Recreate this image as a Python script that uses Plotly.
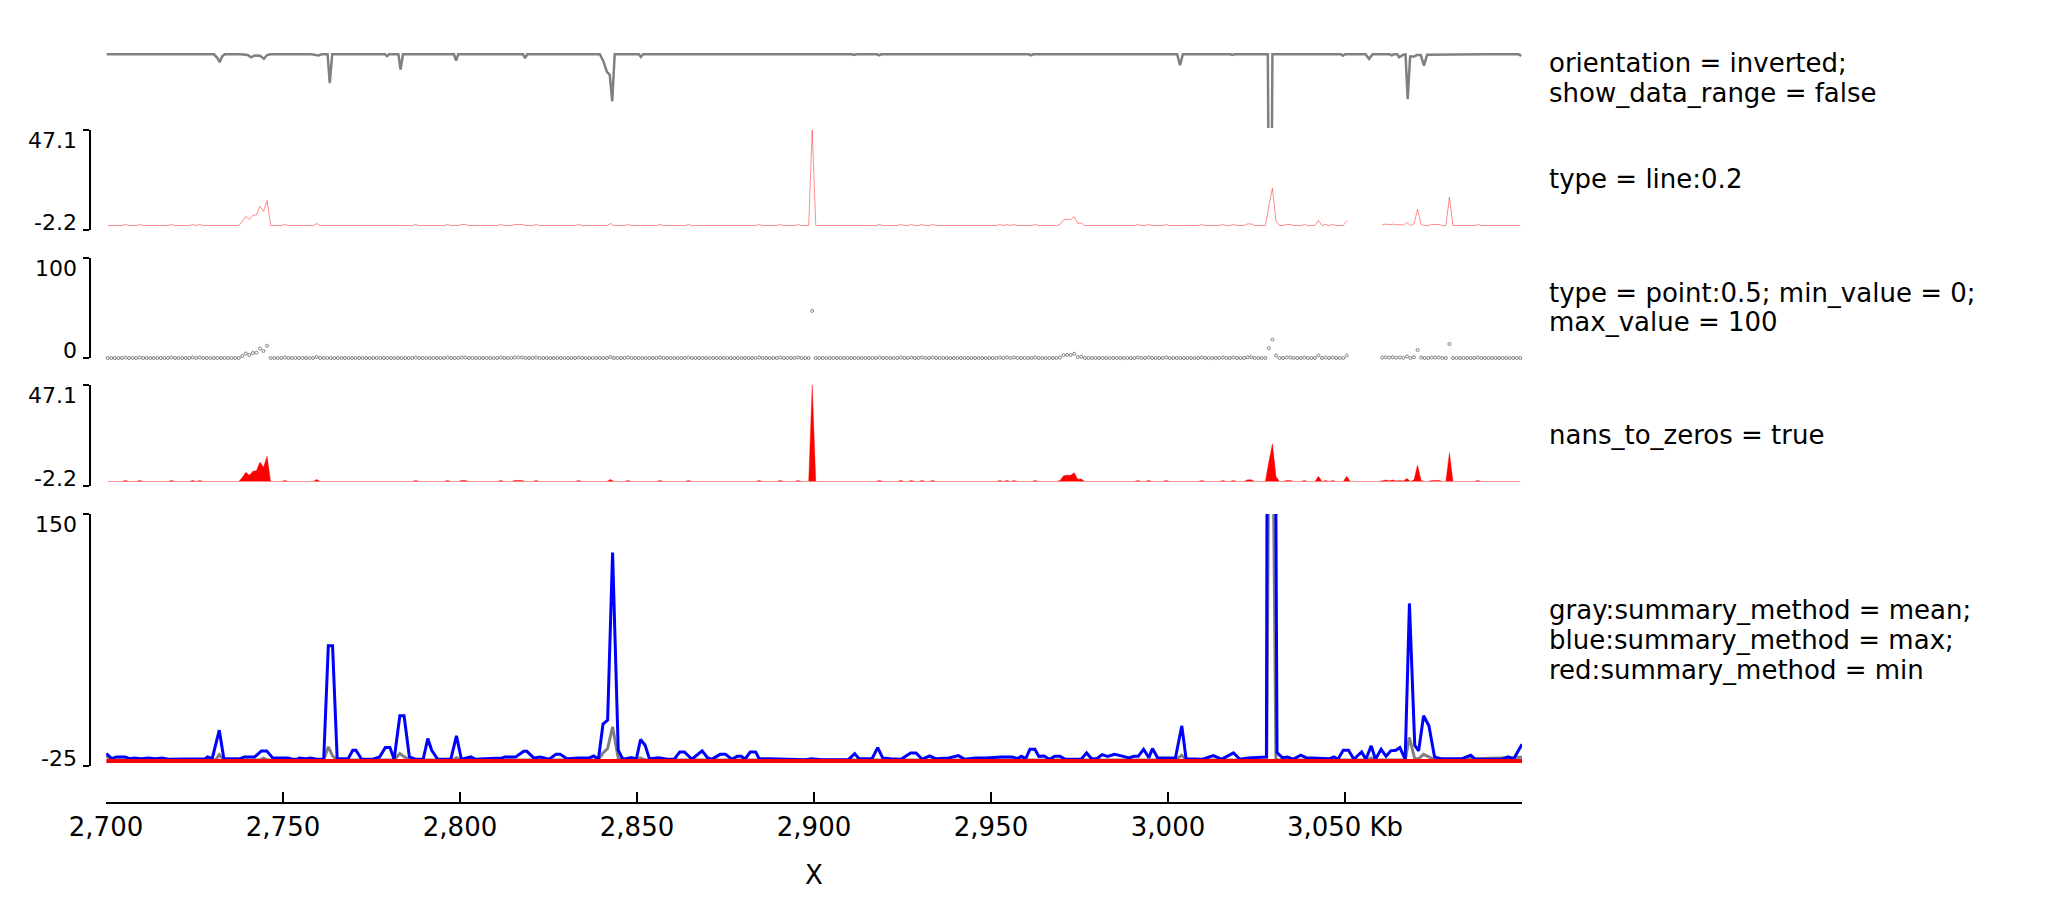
import numpy as np
import plotly.graph_objects as go

W, H = 2047, 918

# ---------------- data ----------------
# Track 1 (orientation = inverted): vertices of the signal line (kb, value)
p1_kb = [2700.2, 2710, 2720, 2730.5, 2731.5, 2732.1, 2732.8, 2733.5, 2738, 2740, 2741, 2742, 2743.5,
         2744.6, 2745.5, 2746.5, 2758, 2760, 2761, 2762.6, 2763.2, 2763.9, 2770, 2778.8, 2779.4, 2780,
         2782.6, 2783.2, 2783.9, 2790, 2798.3, 2798.9, 2799.5, 2810, 2817.8, 2818.4, 2819, 2830, 2839.5,
         2840.5, 2841.5, 2842.3, 2843.0, 2843.7, 2850.5, 2851.1, 2851.7, 2870, 2890, 2910.7, 2911.3,
         2911.9, 2917.8, 2918.4, 2919, 2940, 2960.7, 2961.3, 2961.9, 2980, 3002.6, 3003.4, 3004.2,
         3017.6, 3018.2, 3018.8, 3028.2, 3028.4, 3029.3, 3029.5, 3040, 3048.8, 3049.4, 3050, 3055.8,
         3056.8, 3057.8, 3062.6, 3063.2, 3063.8, 3064.8, 3065.3, 3066.5, 3067.1, 3067.7, 3068.4, 3069.5,
         3070.3, 3071.4, 3072.3, 3073.2, 3080, 3090, 3099, 3099.8]
p1_val = [3, 3, 3, 3, 8, 13.5, 6, 3, 3, 4, 7, 4.5, 5,
          9, 4, 3, 3, 4.5, 3, 3, 41, 3, 3, 3, 5.5, 3,
          3, 23, 3, 3, 3, 11.4, 3, 3, 3, 8, 3, 3, 3,
          12, 26, 30, 65, 3, 3, 6.5, 3, 3, 3, 3, 4,
          3, 3, 4.5, 3, 3, 3, 4.5, 3, 3, 3, 17.5, 3,
          3, 4, 3, 3, 150, 150, 3, 3, 3, 5, 3, 3,
          9, 3, 3, 4.5, 3, 3, 7, 3.5, 3, 62, 6, 6,
          4, 4, 18, 3.5, 3, 3, 3, 5]

# Tracks 2-4: the same signal in 1 kb bins starting at 2,700 kb (None = no data)
signal_vals = [
    0, 0, 0, 0, 0, 0.5, 0, 0, 0, 0.5, 0, 0, 0, 0, 0, 0, 0, 0, 0.5, 0,
    0, 0, 0, 0, 0.5, 0, 0.5, 0, 0, 0, 0, 0, 0, 0, 0, 0, 0, 0, 2.0, 4.5,
    3.0, 5.0, 5.3, 9.5, 7.0, 12.3, 0, 0, 0, 0, 0.5, 0, 0, 0, 0, 0, 0, 0, 0, 1.0,
    0, 0, 0, 0, 0, 0, 0, 0, 0, 0, 0, 0, 0, 0, 0, 0, 0, 0, 0, 0,
    0, 0, 0, 0, 0, 0, 0, 0.5, 0, 0, 0, 0, 0, 0, 0, 0, 0.5, 0, 0, 0,
    0.5, 0.5, 0, 0, 0, 0, 0, 0, 0, 0, 0, 0.5, 0, 0, 0, 0.5, 0.5, 0.5, 0, 0,
    0, 0.5, 0, 0, 0, 0, 0, 0, 0, 0, 0, 0, 0, 0.5, 0, 0, 0, 0, 0, 0,
    0, 0, 1.0, 0, 0, 0, 0, 0.5, 0, 0, 0, 0, 0, 0, 0, 0, 0.5, 0, 0, 0,
    0, 0, 0, 0, 0.5, 0, 0, 0, 0, 0, 0, 0, 0, 0, 0, 0, 0, 0, 0, 0,
    0, 0, 0, 0, 0.5, 0, 0, 0, 0, 0, 0.5, 0, 0, 0, 0, 0.5, 0, 0, 0, 47.1,
    0, 0, 0, 0, 0, 0, 0, 0, 0, 0, 0, 0, 0, 0, 0, 0, 0, 0, 0.5, 0,
    0, 0, 0, 0, 0.5, 0, 0, 0.5, 0, 0, 0.5, 0, 0, 0.5, 0, 0, 0, 0, 0, 0,
    0, 0, 0, 0, 0, 0, 0, 0, 0, 0, 0, 0, 0.5, 0, 0.5, 0, 0.5, 0, 0, 0,
    0, 0, 0.5, 0, 0, 0, 0, 0, 0, 0.5, 2.8, 3.1, 3.0, 4.3, 1.1, 1.2, 0, 0, 0, 0,
    0, 0, 0, 0, 0, 0, 0, 0, 0, 0, 0, 0.5, 0, 0, 0.5, 0, 0, 0, 0, 0.5,
    0, 0, 0, 0, 0, 0, 0, 0, 0, 0.5, 0, 0, 0, 0, 0, 0.5, 0, 0, 0.5, 0,
    0, 0, 0.8, 0.8, 0, 0, 0, 0, 9.7, 18.4, 2.4, 0, 0, 0.5, 0.5, 0, 0, 0, 0.5, 0,
    0, 0, 2.5, 0, 0.5, 0, 0.5, 0, 0, 0, 2.5, None, None, None, None, None, None, None, None, None,
    0.4, 0.7, 0.4, 0.7, 0.3, 0.5, 0.2, 1.5, 0, 0.8, 8.0, 0.5, 0, 0, 0.5, 0.5, 0.5, 0, 0, 14.0,
    0, 0, 0, 0, 0, 0, 0, 0.5, 0, 0, 0, 0, 0, 0, 0, 0, 0, 0, 0, 0,
]
signal_bin_kb = 1.0
signal_start_kb = 2700.0

# Track 5: summary methods (kb, value)
max_kb = [2700.1, 2701.6, 2702.9, 2705.4, 2706.7, 2708.0, 2710.0, 2712.0, 2714.0, 2715.9, 2717.5, 2723.0,
          2728.0, 2728.7, 2730.0, 2732.0, 2733.3, 2738.0, 2739.0, 2742.0, 2743.9, 2745.4, 2747.0, 2749.0,
          2751.4, 2752.7, 2754.0, 2754.6, 2756.5, 2757.7, 2759.6, 2761.5, 2762.8, 2764.0, 2765.3, 2768.4,
          2769.7, 2770.6, 2772.2, 2775.4, 2776.6, 2777.3, 2778.9, 2780.2, 2781.4, 2783.0, 2784.2, 2785.7,
          2787.4, 2789.6, 2790.9, 2792.0, 2793.7, 2797.4, 2799.0, 2800.4, 2803.1, 2804.4, 2806.9, 2812.0,
          2812.6, 2815.7, 2818.0, 2818.9, 2820.8, 2822.7, 2825.2, 2827.1, 2828.3, 2830.2, 2833.4, 2836.5,
          2837.8, 2839.1, 2840.4, 2841.7, 2843.1, 2844.7, 2846.0, 2848.5, 2849.8, 2851.0, 2852.3, 2853.5,
          2856.1, 2858.6, 2860.5, 2862.1, 2863.4, 2865.5, 2868.4, 2869.9, 2871.1, 2873.5, 2875.0, 2876.8,
          2878.3, 2879.5, 2880.5, 2882.0, 2883.5, 2884.5, 2887.2, 2894.0, 2897.7, 2899.2, 2902.2, 2909.7,
          2911.5, 2912.7, 2916.4, 2918.0, 2919.4, 2921.6, 2924.6, 2927.3, 2928.8, 2930.6, 2932.7, 2934.3,
          2938.1, 2940.8, 2942.6, 2945.5, 2948.5, 2953.0, 2956.0, 2957.5, 2958.6, 2959.8, 2961.0, 2962.4,
          2963.5, 2965.0, 2966.5, 2968.0, 2969.5, 2971.0, 2975.5, 2977.0, 2978.4, 2979.9, 2981.4, 2982.9,
          2984.9, 2987.4, 2988.9, 2990.4, 2991.6, 2993.1, 2994.6, 2995.6, 2997.1, 3002.1, 3003.9, 3005.1,
          3009.8, 3012.8, 3015.1, 3018.5, 3020.3, 3022.6, 3026.3, 3027.8, 3028.2, 3030.0, 3030.8, 3032.3,
          3033.8, 3035.3, 3037.5, 3039.0, 3045.7, 3046.9, 3048.0, 3049.5, 3051.0, 3052.5, 3054.7, 3055.9,
          3057.4, 3058.6, 3060.2, 3061.6, 3062.9, 3064.4, 3065.5, 3067.0, 3068.2, 3069.7, 3070.8, 3072.2,
          3073.7, 3075.3, 3077.1, 3083.1, 3085.5, 3086.8, 3094.3, 3096.1, 3097.6, 3099.1, 3100.0]
max_val = [-16.4, -19.9, -18.7, -18.7, -19.9, -19.4, -19.9, -19.4, -19.9, -19.4, -20.3, -20.3,
           -19.9, -18.7, -19.9, -0.1, -19.9, -19.9, -18.7, -18.7, -14.5, -14.5, -19.2, -19.4,
           -19.4, -20.3, -20.3, -19.4, -19.9, -19.4, -20.3, -20.3, 58.5, 58.5, -19.9, -19.9,
           -14.1, -14.1, -20.3, -20.3, -19.4, -18.7, -12.2, -12.2, -20.3, 9.9, 9.9, -18.7,
           -20.3, -20.3, -5.9, -14.1, -20.3, -20.3, -4.1, -20.3, -18.7, -20.3, -19.9, -19.4,
           -18.7, -18.7, -14.8, -14.8, -19.4, -18.7, -20.3, -16.9, -16.9, -19.9, -19.4, -19.4,
           -18.0, -20.3, 4.1, 6.9, 123.2, -14.1, -20.3, -19.2, -20.3, -6.6, -10.6, -19.9,
           -19.2, -20.3, -20.3, -15.2, -15.2, -20.3, -14.5, -19.2, -20.3, -16.9, -16.9, -20.3,
           -18.3, -18.3, -20.3, -15.2, -15.2, -19.9, -19.9, -20.3, -20.6, -19.9, -20.6, -20.6,
           -16.4, -19.9, -19.9, -12.2, -19.4, -19.9, -20.3, -15.9, -15.9, -20.3, -18.0, -19.9,
           -19.4, -17.8, -20.3, -19.4, -19.4, -18.7, -18.7, -19.9, -18.3, -19.9, -13.4, -13.4,
           -18.3, -18.0, -20.3, -18.3, -18.3, -20.3, -20.3, -15.9, -19.9, -19.9, -17.1, -18.3,
           -16.9, -18.3, -19.4, -18.3, -18.3, -13.4, -19.2, -12.9, -19.4, -19.4, 2.9, -19.9,
           -20.3, -17.8, -20.3, -15.9, -20.3, -19.4, -18.7, -18.7, 400, 400, -15.7, -19.2,
           -18.7, -20.3, -17.5, -19.2, -19.9, -18.7, -20.3, -14.1, -14.1, -20.3, -15.2, -20.3,
           -11.0, -20.3, -13.4, -18.3, -14.5, -14.1, -12.2, -20.3, 87.9, -10.6, -14.5, 9.9,
           2.9, -18.7, -19.9, -19.9, -17.6, -20.3, -20.3, -18.7, -20.3, -14.0, -9.9]

mean_kb = [2700.1, 2701.5, 2731.0, 2732.0, 2733.3, 2743.5, 2744.5, 2745.5, 2761.5, 2762.8, 2764.0, 2765.3,
           2781.4, 2783.0, 2784.2, 2785.7, 2798.0, 2799.0, 2800.4, 2839.1, 2840.4, 2841.7, 2843.1, 2844.7,
           2846.0, 2851.0, 2852.3, 3002.1, 3003.9, 3005.1, 3027.9, 3028.7, 3029.3, 3030.5, 3056.3, 3057.4,
           3058.6, 3067.0, 3068.2, 3069.7, 3070.8, 3072.2, 3073.7, 3075.3, 3100.0]
mean_val = [-18.0, -20.8, -20.8, -17.2, -20.8, -20.8, -19.5, -20.8, -20.8, -11.7, -18.0, -20.8,
            -20.8, -16.4, -18.5, -20.8, -20.8, -19.3, -20.8, -20.8, -16.0, -12.9, 2.2, -19.5,
            -20.8, -19.5, -20.8, -20.8, -17.6, -20.8, -20.8, 300, 300, -20.8, -20.8, -19.4,
            -20.8, -20.8, -5.2, -20.0, -20.0, -16.9, -18.7, -20.8, -19.0]

min_kb = [2700.1, 2800.0, 2900.0, 3000.0, 3100.0]
min_val = [-21.6, -21.6, -21.6, -21.6, -21.6]

xtick_vals = [2700, 2750, 2800, 2850, 2900, 2950, 3000, 3050]
xtick_text = ["2,700", "2,750", "2,800", "2,850", "2,900", "2,950", "3,000", "3,050 Kb"]
chrom_label = "X"

track_labels = [
    ["orientation = inverted;", "show_data_range = false"],
    ["type = line:0.2"],
    ["type = point:0.5; min_value = 0;", "max_value = 100"],
    ["nans_to_zeros = true"],
    ["gray:summary_method = mean;", "blue:summary_method = max;", "red:summary_method = min"],
]
y_ranges = [None, (-2.2, 47.1), (0, 100), (-2.2, 47.1), (-25, 150)]
y_ticktext = [None, ("-2.2", "47.1"), ("0", "100"), ("-2.2", "47.1"), ("-25", "150")]

# ---------------- layout geometry (pixels, page coordinates) ----------------
OFF = 8  # default page body margin; subtract so the figure lands at page coordinates
X0, X1 = 106, 1522
panels = [(52, 128), (130, 230), (258, 358), (385, 486), (514, 766)]
label_centers = [77.7, 178.9, 307.5, 434.7, 639.7]
LINE_STEP = 30
TEXT_X = 1547
YAXIS_X = 90
YLABEL_RIGHT = 79
XAXIS_Y = 803
XLABEL_Y = 875
FONT = "DejaVu Sans"


def fx(px):
    return (px - OFF) / W


def fy(py):
    return 1 - (py - OFF) / H


sig = np.array([np.nan if v is None else v for v in signal_vals], dtype=float)
sig_kb = signal_start_kb + signal_bin_kb * (np.arange(len(sig)) + 0.5)
sig_nan0 = np.nan_to_num(sig, nan=0.0)

fig = go.Figure()
fig.add_trace(go.Scatter(x=p1_kb, y=p1_val, mode="lines", line=dict(color="#808080", width=2.5),
                         xaxis="x", yaxis="y", hoverinfo="skip"))
fig.add_trace(go.Scatter(x=sig_kb, y=sig, mode="lines", line=dict(color="rgba(255,0,0,0.45)", width=1),
                         connectgaps=False, xaxis="x2", yaxis="y2", hoverinfo="skip"))
fig.add_trace(go.Scatter(x=sig_kb, y=sig, mode="markers", cliponaxis=False,
                         marker=dict(symbol="circle-open", size=3, color="#808080",
                                     line=dict(width=1, color="#808080")),
                         xaxis="x3", yaxis="y3", hoverinfo="skip"))
fig.add_trace(go.Scatter(x=sig_kb, y=sig_nan0, mode="lines", fill="tozeroy", fillcolor="red",
                         line=dict(color="rgba(255,0,0,0.4)", width=1),
                         xaxis="x4", yaxis="y4", hoverinfo="skip"))
fig.add_trace(go.Scatter(x=mean_kb, y=mean_val, mode="lines", line=dict(color="#808080", width=3),
                         xaxis="x5", yaxis="y5", hoverinfo="skip"))
fig.add_trace(go.Scatter(x=max_kb, y=max_val, mode="lines", line=dict(color="blue", width=3),
                         xaxis="x5", yaxis="y5", hoverinfo="skip"))
fig.add_trace(go.Scatter(x=min_kb, y=min_val, mode="lines", line=dict(color="red", width=4),
                         xaxis="x5", yaxis="y5", hoverinfo="skip"))

layout = dict(width=W, height=H, margin=dict(l=0, r=0, t=0, b=0, pad=0, autoexpand=False),
              paper_bgcolor="white", plot_bgcolor="white", showlegend=False,
              font=dict(family=FONT, color="black"), title=dict(text=""))

annotations = []
xdom = [fx(X0), fx(X1)]
for i, (top, bot) in enumerate(panels, start=1):
    sfx = "" if i == 1 else str(i)
    ydomain = [fy(bot), fy(top)]
    xa = dict(domain=xdom, range=[2700, 3100], anchor="y" + sfx, showgrid=False, zeroline=False,
              visible=False, automargin=False)
    if i == 1:
        ya = dict(domain=ydomain, range=[100, 0], anchor="x", visible=False, automargin=False)
    else:
        lo, hi = y_ranges[i - 1]
        eps = (hi - lo) * 1e-6
        ya = dict(domain=ydomain, range=[lo - eps, hi + eps], anchor="free", position=fx(YAXIS_X),
                  showline=True, linecolor="black", linewidth=2, ticks="outside", ticklen=6,
                  tickwidth=2, tickcolor="black", tickvals=[lo, hi], showticklabels=False,
                  showgrid=False, zeroline=False, automargin=False)
        lo_txt, hi_txt = y_ticktext[i - 1]
        # range labels sit inside the bracket: top label hangs below the top tick,
        # bottom label rests on the bottom tick
        annotations.append(dict(text=hi_txt, x=fx(YLABEL_RIGHT), y=fy(top - 4), xref="paper",
                                yref="paper", xanchor="right", yanchor="top", showarrow=False,
                                font=dict(size=22, family=FONT, color="black")))
        annotations.append(dict(text=lo_txt, x=fx(YLABEL_RIGHT), y=fy(bot + 7), xref="paper",
                                yref="paper", xanchor="right", yanchor="bottom", showarrow=False,
                                font=dict(size=22, family=FONT, color="black")))
    if i == 5:
        xa.update(visible=True, anchor="free", position=fy(XAXIS_Y), showline=True,
                  linecolor="black", linewidth=2, ticks="inside", ticklen=10, tickwidth=1.5,
                  tickcolor="black", tickvals=xtick_vals, ticktext=xtick_text,
                  tickfont=dict(size=26, family=FONT, color="black"), ticklabelstandoff=1)
    if i > 1:
        xa["matches"] = "x"
    layout["xaxis" + sfx] = xa
    layout["yaxis" + sfx] = ya

for lines, yc in zip(track_labels, label_centers):
    n = len(lines)
    for k, txt in enumerate(lines):
        yy = yc + (k - (n - 1) / 2) * LINE_STEP
        annotations.append(dict(text=txt, x=fx(TEXT_X), y=fy(yy), xref="paper", yref="paper",
                                xanchor="left", yanchor="middle", showarrow=False,
                                font=dict(size=26, family=FONT, color="black")))
annotations.append(dict(text=chrom_label, x=fx((X0 + X1) / 2), y=fy(XLABEL_Y), xref="paper",
                        yref="paper", xanchor="center", yanchor="middle", showarrow=False,
                        font=dict(size=26, family=FONT, color="black")))
layout["annotations"] = annotations

fig.update_layout(**layout)
fig.write_html("out.html")
